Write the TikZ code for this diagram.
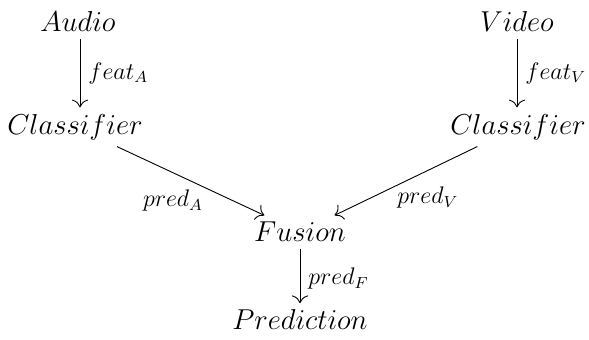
\documentclass[tikz,border=0pt]{standalone}
\usetikzlibrary{arrows.meta}
\begin{document}
\begin{tikzpicture}[x=0.5pt,y=-0.5pt,
  main/.style={font=\fontsize{15.2}{18}\selectfont, inner sep=3.2pt},
  lbl/.style={font=\fontsize{12}{14}\selectfont, inner sep=1.5pt},
  vlbl/.style={lbl, inner sep=4pt},
  arr/.style={-{To[scale=1.5]}, line width=0.45pt}]
\useasboundingbox (0,0) rectangle (589,340);
\node[main] (audio) at (78,22) {$Audio$};
\node[main] (video) at (517,22) {$Video$};
\node[main] (clsA) at (75,127) {$Classifier$};
\node[main] (clsV) at (518,127) {$Classifier$};
\node[main] (fusion) at (300,232) {$Fusion$};
\node[main] (pred) at (300,320) {$Prediction$};
\draw[arr] (audio.south -| 80,0) -- (clsA.north -| 80,0) node[vlbl, midway, right] {$feat_A$};
\draw[arr] (video.south -| 517,0) -- (clsV.north -| 517,0) node[vlbl, midway, right] {$feat_V$};
\draw[arr] (clsA) -- (fusion) node[lbl, pos=0.6, anchor=north east, inner sep=1pt] {$pred_A$};
\draw[arr] (clsV) -- (fusion) node[lbl, pos=0.57, anchor=north west, inner sep=0.5pt] {$pred_V$};
\draw[arr] (fusion) -- (pred) node[vlbl, pos=0.55, right] {$pred_F$};
\end{tikzpicture}
\end{document}
